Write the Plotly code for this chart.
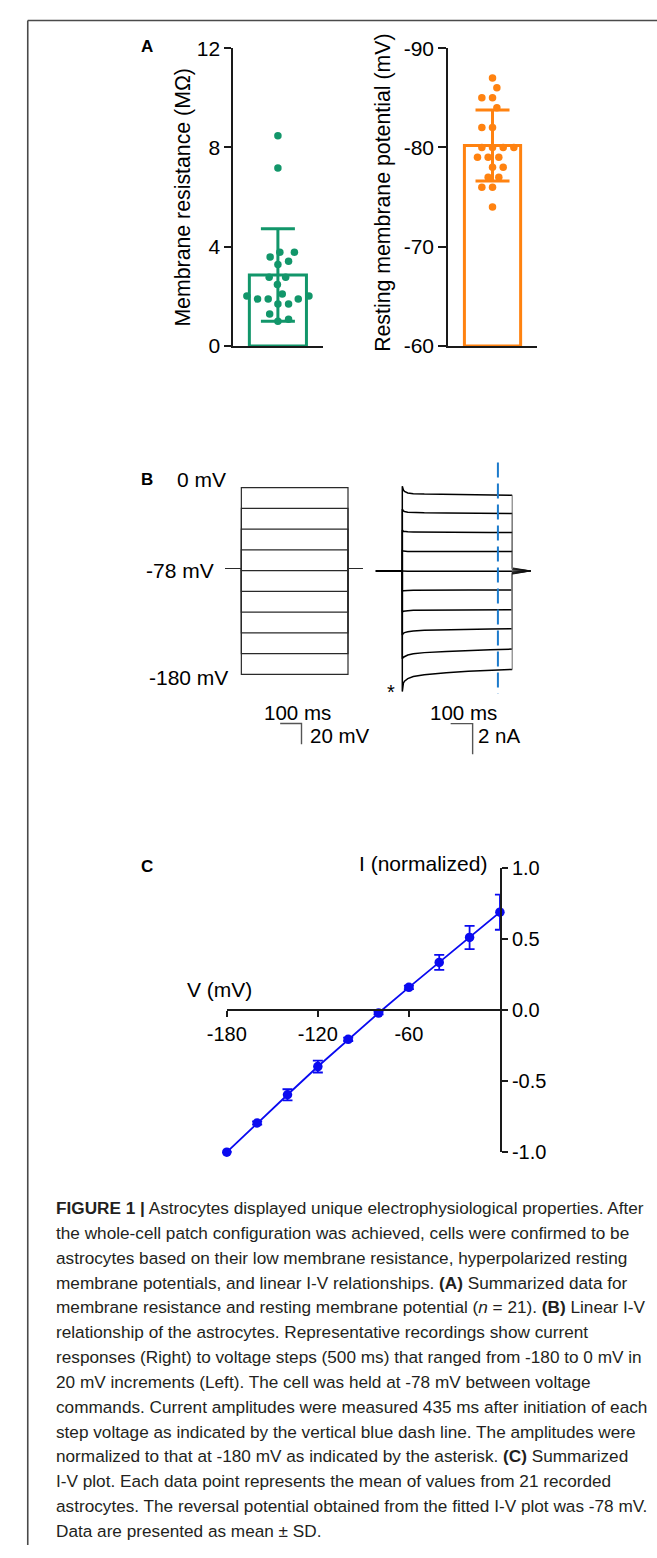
import plotly.graph_objects as go

W, H = 657, 1558
FONT = "Liberation Sans, Arial, Helvetica, sans-serif"

# ---------------- data ----------------
# Panel A
RES_MOHM = [8.47, 7.17, 3.78, 3.78, 3.59, 3.41, 3.28, 2.77, 2.77, 2.48, 2.09,
            2.01, 2.01, 1.89, 1.89, 1.89, 1.69, 1.69, 1.29, 1.08, 1.00]
RMP_MV = [-87, -86, -85, -85, -84, -82, -82, -80, -80, -80, -80,
          -79, -79, -79, -78, -78, -77, -77, -76, -76, -74]
RES_TICKS = [0, 4, 8, 12]
RES_TICKTEXT = ["0", "4", "8", "12"]
RMP_TICKS = [-60, -70, -80, -90]
RMP_TICKTEXT = ["-60", "-70", "-80", "-90"]

# Panel B
STEP_MV = [0, -20, -40, -60, -80, -100, -120, -140, -160, -180]
HOLD_MV = -78
STEP_MS = 500
PRE_MS = 75
POST_MS = 67
PRE_I_MS = 122
TAIL_MS = 84
MEASURE_MS = 435
TRACE_T_MS = [0, 5, 10, 25, 50, 100, 200, 300, 400, 500]
TRACE_NA = [
    [5.55, 5.30, 5.20, 5.10, 5.06, 5.03, 5.00, 4.98, 4.96, 4.95],
    [4.05, 3.93, 3.89, 3.85, 3.83, 3.81, 3.79, 3.78, 3.77, 3.76],
    [2.68, 2.60, 2.58, 2.56, 2.55, 2.54, 2.53, 2.53, 2.52, 2.52],
    [1.33, 1.30, 1.29, 1.28, 1.28, 1.27, 1.27, 1.27, 1.27, 1.27],
    [0.00, -0.01, -0.02, -0.02, -0.02, -0.02, -0.02, -0.02, -0.02, -0.02],
    [-1.32, -1.30, -1.29, -1.28, -1.27, -1.26, -1.26, -1.25, -1.25, -1.25],
    [-2.70, -2.64, -2.62, -2.60, -2.58, -2.57, -2.56, -2.55, -2.545, -2.54],
    [-4.20, -4.08, -4.04, -3.98, -3.93, -3.89, -3.85, -3.82, -3.80, -3.78],
    [-5.76, -5.65, -5.60, -5.51, -5.43, -5.35, -5.27, -5.20, -5.16, -5.12],
    [-7.90, -7.35, -7.22, -7.05, -6.92, -6.80, -6.66, -6.57, -6.51, -6.45],
]
TAIL_NA = [0.20, 0.16, 0.12, 0.07, 0.0, -0.06, -0.10, -0.14, -0.18, -0.21]
SCALE_T_MS = 100
SCALE_V_MV = 20
SCALE_I_NA = 2

# Panel C
IV_MV = [-180, -160, -140, -120, -100, -80, -60, -40, -20, 0]
IV_I = [-1.0, -0.794, -0.595, -0.396, -0.204, -0.019, 0.162, 0.338, 0.514, 0.692]
IV_SD = [0.0, 0.012, 0.039, 0.042, 0.012, 0.010, 0.012, 0.053, 0.082, 0.124]
IV_XTICKS = [-180, -120, -60]
IV_XTEXT = ["-180", "-120", "-60"]
IV_YTICKS = [-1.0, -0.5, 0.0, 0.5, 1.0]
IV_YTEXT = ["-1.0", "-0.5", "0.0", "0.5", "1.0"]

CAPTION = [
    "<b>FIGURE 1 |</b> Astrocytes displayed unique electrophysiological properties. After",
    "the whole-cell patch configuration was achieved, cells were confirmed to be",
    "astrocytes based on their low membrane resistance, hyperpolarized resting",
    "membrane potentials, and linear I-V relationships. <b>(A)</b> Summarized data for",
    "membrane resistance and resting membrane potential (<i>n</i> = 21). <b>(B)</b> Linear I-V",
    "relationship of the astrocytes. Representative recordings show current",
    "responses (Right) to voltage steps (500 ms) that ranged from -180 to 0 mV in",
    "20 mV increments (Left). The cell was held at -78 mV between voltage",
    "commands. Current amplitudes were measured 435 ms after initiation of each",
    "step voltage as indicated by the vertical blue dash line. The amplitudes were",
    "normalized to that at -180 mV as indicated by the asterisk. <b>(C)</b> Summarized",
    "I-V plot. Each data point represents the mean of values from 21 recorded",
    "astrocytes. The reversal potential obtained from the fitted I-V plot was -78 mV.",
    "Data are presented as mean \u00b1 SD.",
]

# ---------------- styles ----------------
GREEN = "#12966A"
ORANGE = "#FF8210"
BLUE = "#0A0AF0"
DASHBLUE = "#1C7ACB"
AXC = "#1a1a1a"


def px_x(p):
    return p / W


def px_y(p):
    return 1 - p / H


def dom_x(a, b):
    return [px_x(a), px_x(b)]


def dom_y(top, bottom):
    return [px_y(bottom), px_y(top)]


def mean_sd(v):
    m = sum(v) / len(v)
    s = (sum((x - m) ** 2 for x in v) / (len(v) - 1)) ** 0.5
    return m, s


def swarm(values, ppu_y, ppu_x, d=11.0):
    order = sorted(range(len(values)), key=lambda i: values[i])
    placed = []
    xs = [0.0] * len(values)
    cands = [0.0]
    for k in range(1, 200):
        cands += [k * 0.5, -k * 0.5]
    for i in order:
        y = values[i] * ppu_y
        left = sum(1 for p in placed if p[0] < 0)
        right = sum(1 for p in placed if p[0] > 0)
        chosen = 0.0
        for c in cands:
            cc = c
            if c != 0 and left < right:
                cc = -c
            if all((cc - px) ** 2 + (y - py) ** 2 >= d * d for px, py in placed):
                chosen = cc
                break
        placed.append((chosen, y))
        xs[i] = chosen / ppu_x
    return xs


fig = go.Figure()

# ---------------- Panel A ----------------
A_TOP, A_BOT = 36.7, 339.0
A1_L, A1_R = 220.0, 312.0
A2_L, A2_R = 441.7, 533.0

m1, s1 = mean_sd(RES_MOHM)
m2, s2 = mean_sd(RMP_MV)

fig.add_trace(go.Bar(x=[0], y=[m1], width=0.64, xaxis="x", yaxis="y",
                     marker=dict(color="rgba(255,255,255,0)", line=dict(color=GREEN, width=3))))
fig.add_trace(go.Scatter(x=[0], y=[m1], mode="markers", xaxis="x", yaxis="y",
                         marker=dict(size=1, opacity=0),
                         error_y=dict(type="data", array=[s1], color=GREEN, thickness=3, width=17)))
xs1 = swarm(RES_MOHM, (A_BOT - A_TOP) / 12.0, A1_R - A1_L)
fig.add_trace(go.Scatter(x=xs1, y=RES_MOHM, mode="markers", xaxis="x", yaxis="y",
                         marker=dict(size=7.5, color=GREEN)))

fig.add_trace(go.Bar(x=[0], y=[m2 - RMP_TICKS[0]], base=RMP_TICKS[0], width=0.635, xaxis="x2", yaxis="y2",
                     marker=dict(color="rgba(255,255,255,0)", line=dict(color=ORANGE, width=3))))
fig.add_trace(go.Scatter(x=[0], y=[m2], mode="markers", xaxis="x2", yaxis="y2",
                         marker=dict(size=1, opacity=0),
                         error_y=dict(type="data", array=[s2], color=ORANGE, thickness=3, width=17)))
xs2 = swarm(RMP_MV, (A_BOT - A_TOP) / 30.0, A2_R - A2_L)
fig.add_trace(go.Scatter(x=xs2, y=RMP_MV, mode="markers", xaxis="x2", yaxis="y2",
                         marker=dict(size=7.5, color=ORANGE)))

# ---------------- Panel B ----------------
VX0, VK = 228.3, 0.22
VY0, VKY = 482.7, 1.0533
B3_L, B3_R, B_T, B_B = 200.0, 360.0, 455.0, 760.0
v_xr = [(B3_L - VX0) / VK, (B3_R - VX0) / VK]
v_yr = [(VY0 - B_B) / VKY, (VY0 - B_T) / VKY]

for v in STEP_MV:
    fig.add_trace(go.Scatter(
        x=[-PRE_MS, 0, 0, STEP_MS, STEP_MS, STEP_MS + POST_MS],
        y=[HOLD_MV, HOLD_MV, v, v, HOLD_MV, HOLD_MV],
        mode="lines", xaxis="x3", yaxis="y3",
        line=dict(color="#2a2a2a", width=1.2)))

sbt0 = 182
sbv0 = -227.3
fig.add_trace(go.Scatter(x=[sbt0, sbt0 + SCALE_T_MS, sbt0 + SCALE_T_MS],
                         y=[sbv0, sbv0, sbv0 - SCALE_V_MV],
                         mode="lines", xaxis="x3", yaxis="y3",
                         line=dict(color="#555555", width=1.4)))

IX0, IK = 394.3, 0.2267
IY0, IKY = 567.3, 15.5
B4_L, B4_R = 360.0, 540.0
i_xr = [(B4_L - IX0) / IK, (B4_R - IX0) / IK]
i_yr = [(IY0 - B_B) / IKY, (IY0 - B_T) / IKY]

fig.add_trace(go.Scatter(x=[-PRE_I_MS, 0], y=[0, 0], mode="lines", xaxis="x4", yaxis="y4",
                         line=dict(color="black", width=2)))
for k, tr in enumerate(TRACE_NA):
    fig.add_trace(go.Scatter(x=[0] + TRACE_T_MS, y=[0] + tr, mode="lines",
                             xaxis="x4", yaxis="y4", line=dict(color="black", width=1.5)))
    fig.add_trace(go.Scatter(x=[STEP_MS, STEP_MS], y=[tr[-1], TAIL_NA[k]], mode="lines",
                             xaxis="x4", yaxis="y4", line=dict(color="#777777", width=1.1)))
    fig.add_trace(go.Scatter(x=[STEP_MS, STEP_MS + TAIL_MS], y=[TAIL_NA[k], 0], mode="lines",
                             xaxis="x4", yaxis="y4", line=dict(color="#111111", width=0.9)))

fig.add_trace(go.Scatter(x=[MEASURE_MS, MEASURE_MS], y=[7.1, -8.05], mode="lines",
                         xaxis="x4", yaxis="y4",
                         line=dict(color=DASHBLUE, width=2, dash="15px,6px")))

sit0 = 220
sii0 = -10.0
fig.add_trace(go.Scatter(x=[sit0, sit0 + SCALE_T_MS, sit0 + SCALE_T_MS],
                         y=[sii0, sii0, sii0 - SCALE_I_NA],
                         mode="lines", xaxis="x4", yaxis="y4",
                         line=dict(color="#555555", width=1.4)))

# ---------------- Panel C ----------------
C_L, C_R = 213.3, 495.0
C_T, C_B = 869.3, 1157.3
C_ZERO = 1013.3
fig.add_trace(go.Scatter(x=IV_MV, y=IV_I, mode="lines+markers", xaxis="x5", yaxis="y5",
                         cliponaxis=False,
                         line=dict(color=BLUE, width=1.8),
                         marker=dict(size=9.5, color=BLUE),
                         error_y=dict(type="data", array=IV_SD, color=BLUE, thickness=1.8, width=5)))

# ---------------- layout ----------------
tickfont = dict(family=FONT, size=21, color="black")
tickfont_c = dict(family=FONT, size=20, color="black")
hidden = dict(visible=False, showgrid=False, zeroline=False, fixedrange=True)

layout = dict(
    width=W, height=H,
    margin=dict(l=0, r=0, t=0, b=0),
    paper_bgcolor="white", plot_bgcolor="rgba(0,0,0,0)",
    showlegend=False,
    font=dict(family=FONT, color="black"),
    xaxis=dict(domain=dom_x(A1_L, A1_R), range=[-0.5, 0.5], showline=True, linecolor=AXC,
               linewidth=2, ticks="", showticklabels=False, showgrid=False, zeroline=False,
               anchor="y"),
    yaxis=dict(domain=dom_y(A_TOP, A_BOT), range=[0, 12], tickvals=RES_TICKS, ticktext=RES_TICKTEXT,
               showline=True, linecolor=AXC, linewidth=2, ticks="outside", ticklen=7, tickwidth=2,
               tickcolor=AXC, tickfont=tickfont, showgrid=False, zeroline=False, anchor="x"),
    xaxis2=dict(domain=dom_x(A2_L, A2_R), range=[-0.5, 0.5], showline=True, linecolor=AXC,
                linewidth=2, ticks="", showticklabels=False, showgrid=False, zeroline=False,
                anchor="y2"),
    yaxis2=dict(domain=dom_y(A_TOP, A_BOT), range=[-60, -90], tickvals=RMP_TICKS, ticktext=RMP_TICKTEXT,
                showline=True, linecolor=AXC, linewidth=2, ticks="outside", ticklen=8, tickwidth=2,
                tickcolor=AXC, tickfont=tickfont, showgrid=False, zeroline=False, anchor="x2"),
    xaxis3=dict(domain=dom_x(B3_L, B3_R), range=v_xr, anchor="y3", **hidden),
    yaxis3=dict(domain=dom_y(B_T, B_B), range=v_yr, anchor="x3", **hidden),
    xaxis4=dict(domain=dom_x(B4_L, B4_R), range=i_xr, anchor="y4", **hidden),
    yaxis4=dict(domain=dom_y(B_T, B_B), range=i_yr, anchor="x4", **hidden),
    xaxis5=dict(domain=dom_x(C_L, C_R), range=[-180, 0], anchor="free", position=px_y(C_ZERO),
                showline=True, linecolor=AXC, linewidth=2, ticks="outside", ticklen=6,
                tickwidth=2, tickcolor=AXC, tickvals=IV_XTICKS, ticktext=IV_XTEXT,
                tickfont=tickfont_c, showgrid=False, zeroline=False),
    yaxis5=dict(domain=dom_y(C_T, C_B), range=[-1, 1], anchor="x5", side="right",
                showline=True, linecolor=AXC, linewidth=2, ticks="outside", ticklen=6,
                tickwidth=2, tickcolor=AXC, tickvals=IV_YTICKS, ticktext=IV_YTEXT,
                tickfont=tickfont_c, showgrid=False, zeroline=False),
)

ann = []


def text(s, x, y, size=21, xanchor="center", yanchor="middle", angle=0, color="black"):
    ann.append(dict(text=s, x=px_x(x), y=px_y(y), xref="paper", yref="paper",
                    xanchor=xanchor, yanchor=yanchor, showarrow=False, textangle=angle,
                    font=dict(family=FONT, size=size, color=color)))


# panel labels
text("<b>A</b>", 131, 35, size=17)
text("<b>B</b>", 131, 474, size=17)
text("<b>C</b>", 131, 867, size=17)

# A axis titles
text("Membrane resistance (M\u03a9)", 168, 187.5, size=21.3, angle=-90)
text("Resting membrane potential (mV)", 375, 184, size=21.3, angle=-90)

# B labels
text("0 mV", 215, 474, xanchor="right")
text("-78 mV", 202, 567, xanchor="right")
text("-180 mV", 217, 675, xanchor="right")
text("100 ms", 286, 711, size=20.5)
text("20 mV", 297, 734, size=20.5, xanchor="left")
text("100 ms", 457, 711, size=20.5)
text("2 nA", 470, 734, size=20.5, xanchor="left")
text("*", 383, 690, size=20)

# C labels
text("V (mV)", 206, 992)
text("I (normalized)", 416, 864)

# caption
CAP_Y0, CAP_DY = 1214.0, 25.2
for i, line in enumerate(CAPTION):
    text(line, 35, CAP_Y0 + i * CAP_DY, size=17.2, xanchor="left", color="#231F20")

layout["annotations"] = ann
layout["shapes"] = [
    dict(type="line", xref="paper", yref="paper", x0=px_x(8), x1=1, y0=px_y(8.6), y1=px_y(8.6),
         line=dict(color="#4a4a4a", width=1.6)),
    dict(type="line", xref="paper", yref="paper", x0=px_x(8), x1=px_x(8), y0=px_y(8.6), y1=px_y(1556),
         line=dict(color="#4a4a4a", width=1.6)),
]

fig.update_layout(**layout)
fig.write_html("out.html", config=dict(displayModeBar=False),
               post_script="document.body.style.margin='0';document.body.style.padding='0';")
